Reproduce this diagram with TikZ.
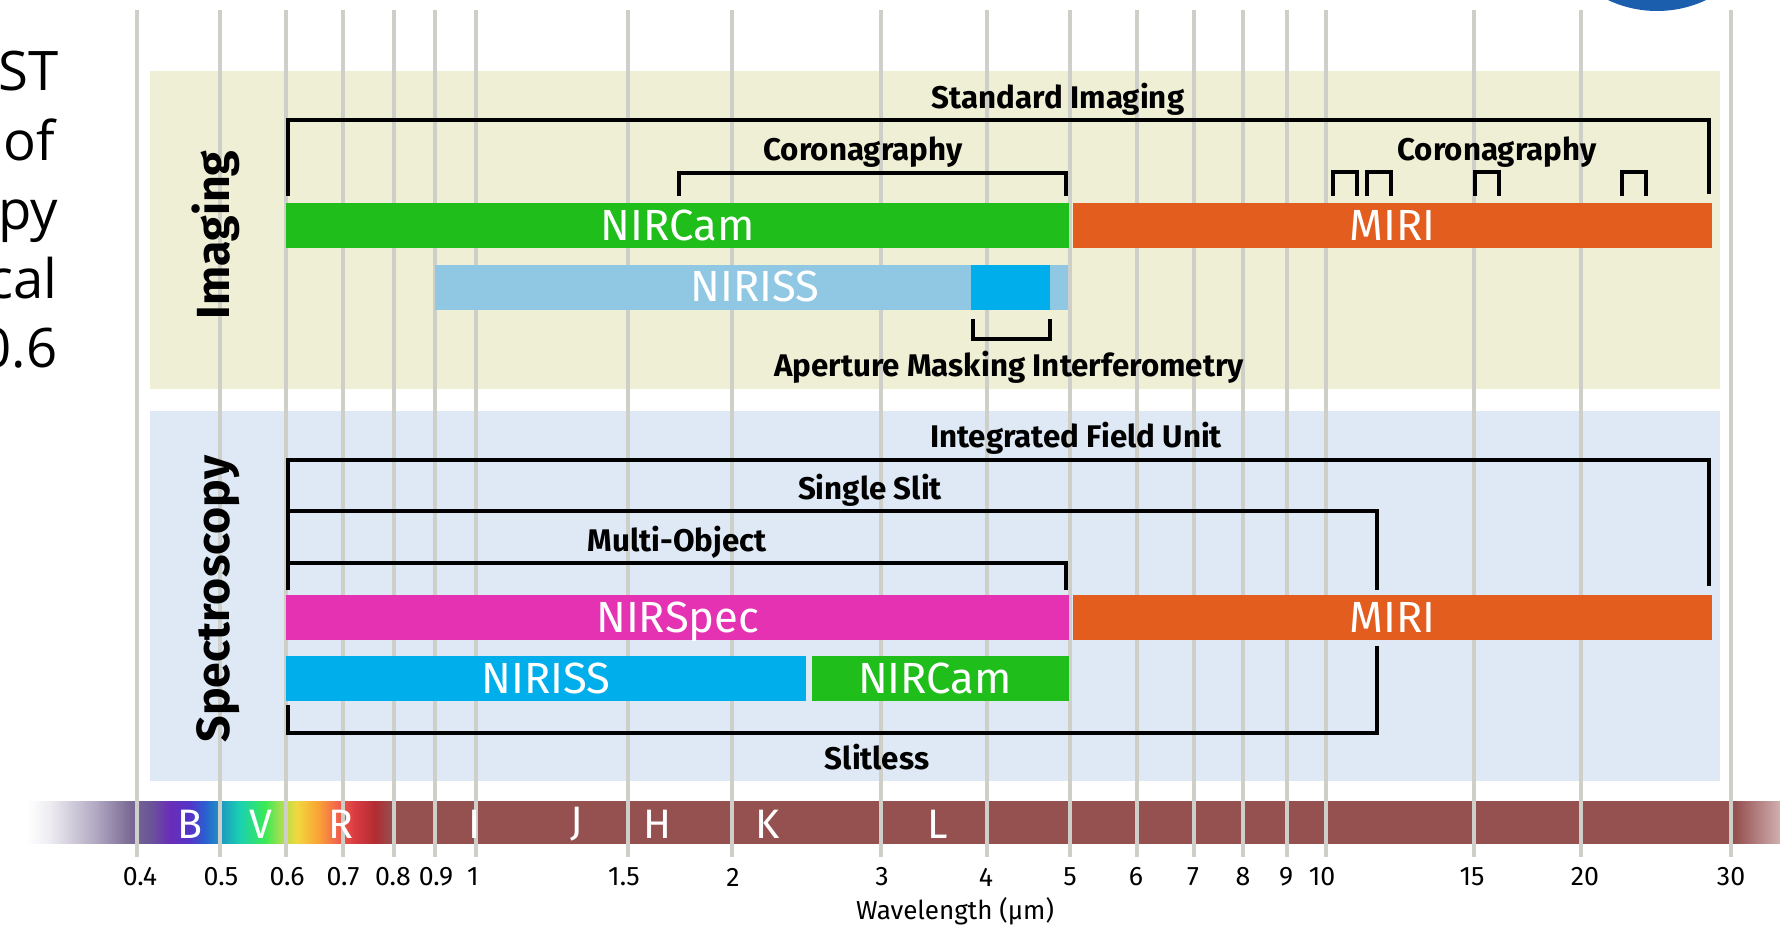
\documentclass[tikz,border=0pt]{standalone}
\usepackage{fontspec}
\setmainfont{Fira Sans}
\newfontfamily\sidefont{Open Sans}
\usepackage{xcolor}
\usetikzlibrary{positioning}

\definecolor{gridgrey}{HTML}{CFCFC9}
\definecolor{imgpanel}{HTML}{EFEFD6}
\definecolor{specpanel}{HTML}{DEE9F5}
\definecolor{nircamgreen}{HTML}{1FBE1B}
\definecolor{miriorange}{HTML}{E25D1E}
\definecolor{nirisslight}{HTML}{90C8E4}
\definecolor{nirissblue}{HTML}{00AEEC}
\definecolor{nirspecpink}{HTML}{E532B2}
\definecolor{logoblue}{HTML}{1B5EAE}

\pgfdeclarehorizontalshading{spectrum}{100bp}{
  color(0bp)=(white); color(25bp)=(white);
  rgb(25.66bp)=(.93,.925,.945); rgb(26.94bp)=(.70,.665,.765);
  rgb(27.94bp)=(.482,.416,.584); rgb(28.51bp)=(.42,.333,.592);
  rgb(29.08bp)=(.416,.176,.722); rgb(29.65bp)=(.325,.208,.784);
  rgb(30.08bp)=(.165,.373,.816); rgb(30.56bp)=(.11,.612,.753);
  rgb(31.08bp)=(.106,.82,.69); rgb(31.79bp)=(.231,.918,.333);
  rgb(32.22bp)=(.627,.878,.314); rgb(32.7bp)=(.949,.847,.243);
  rgb(33.3bp)=(.976,.643,.208); rgb(33.79bp)=(.957,.416,.298);
  rgb(34.36bp)=(.851,.227,.259); rgb(34.93bp)=(.698,.173,.196);
  rgb(35.42bp)=(.584,.314,.314); rgb(73.72bp)=(.584,.314,.314);
  rgb(75bp)=(.82,.69,.69); rgb(100bp)=(.82,.69,.69)}

\tikzset{
  gridline/.style={draw=gridgrey, line width=0.38mm},
  panel/.style={anchor=north west, inner sep=0pt, outer sep=0pt},
  bar/.style={anchor=north west, inner sep=0pt, outer sep=0pt, minimum height=0.45cm,
    text height=8.5pt, text depth=0pt, text=white, font=\fontsize{12.4}{14}\selectfont},
  bracket/.style={draw=black, line width=0.33mm},
  modelabel/.style={inner sep=0pt, font=\fontsize{8.9}{10}\selectfont\bfseries},
  sidelabel/.style={inner sep=0pt, rotate=90, anchor=base, font=\fontsize{13.2}{15}\selectfont\bfseries},
  ticklabel/.style={inner sep=0pt, font=\fontsize{7.6}{9}\selectfont},
  bandlabel/.style={inner sep=0pt, text=white, font=\fontsize{11.7}{13}\selectfont},
  sideline/.style={anchor=base east, inner sep=0pt, font=\sidefont\fontsize{15.5}{18}\selectfont},
}

\begin{document}
\begin{tikzpicture}[x=0.01cm, y=-0.01cm]
    \useasboundingbox (0,0) rectangle (1780,930);
    \fill[logoblue] (1657,-104) circle (115);

    \node[sideline] (line1) at (59,90) {ST};
    \node[sideline] (line2) at (56,160) {of};
    \node[sideline] (line3) at (59,229) {py};
    \node[sideline] (line4) at (58,298) {cal};
    \node[sideline] (line5) at (58,367) {0.6};

    % panels
    \node[panel, fill=imgpanel, minimum width=15.69cm, minimum height=3.18cm] (imgpanel) at (150,71) {};
    \node[panel, fill=specpanel, minimum width=15.69cm, minimum height=3.70cm] (specpanel) at (150,411) {};

    % wavelength band
    \shade[shading=spectrum] (27,801) rectangle (1780,843);

    % wavelength grid
    \foreach \gx/\lx/\lab in {137/140/0.4, 220/221/0.5, 286/287/0.6, 343/343/0.7, 394/393/0.8,
        435/436/0.9, 476/473/1, 628/624/1.5, 732/733/2, 881/882/3, 987/986/4, 1070/1070/5,
        1137/1136/6, 1194/1193/7, 1243/1243/8, 1287/1286/9, 1326/1322/10, 1474/1472/15,
        1581/1585/20, 1731/1731/30} {
        \coordinate (gtop\gx) at (\gx,10);
        \coordinate (gbot\gx) at (\gx,857);
        \draw[gridline] (gtop\gx) -- (gbot\gx);
        \node[ticklabel] (tick\gx) at (\lx,877) {\lab};
    }
    \node[ticklabel, font=\fontsize{7.4}{9}\selectfont] (wavelength) at (955,911) {Wavelength (µm)};

    \foreach \bx/\bname in {190/B, 261/V, 341/R, 475/I, 577/J, 657/H, 768/K, 938/L}
        \node[bandlabel] (band\bname) at (\bx,824) {\bname};

    % imaging
    \node[bar, fill=nircamgreen, minimum width=7.83cm] (nircam1) at (286,203) {NIRCam};
    \node[bar, fill=miriorange, minimum width=6.39cm] (miri1) at (1073,203) {MIRI};
    \node[bar, fill=nirisslight, minimum width=6.33cm] (niriss1) at (435,264.5) {};
    \node[bar, fill=nirissblue, minimum width=0.79cm] (ami) at (971,264.5) {};
    \node[bar, anchor=center] (nirisslabel) at (755,287) {NIRISS};

    \coordinate (si1) at (288,196);
    \coordinate (si2) at (1709,120);
    \coordinate (si3) at (1709,194);
    \draw[bracket] (si1) |- (si2) -- (si3);
    \coordinate (cl1) at (679,196);
    \coordinate (cl2) at (1066,173);
    \coordinate (cl3) at (1066,196);
    \draw[bracket] (cl1) |- (cl2) -- (cl3);
    \foreach \cx/\cy in {1333/1357, 1367/1391, 1475/1499, 1622/1646} {
        \coordinate (cr\cx a) at (\cx,196);
        \coordinate (cr\cx b) at (\cy,172);
        \coordinate (cr\cx c) at (\cy,196);
        \draw[bracket] (cr\cx a) |- (cr\cx b) -- (cr\cx c);
    }
    \coordinate (am1) at (973,319);
    \coordinate (am2) at (1050,339);
    \coordinate (am3) at (1050,319);
    \draw[bracket] (am1) |- (am2) -- (am3);

    \node[modelabel] (stdimg) at (1058,99) {Standard Imaging};
    \node[modelabel] (corleft) at (863,152) {Coronagraphy};
    \node[modelabel] (corright) at (1497,152) {Coronagraphy};
    \node[modelabel] (amilabel) at (1009,367) {Aperture Masking Interferometry};
    \node[sidelabel] (imaging) at (229,235) {Imaging};

    % spectroscopy
    \node[bar, fill=nirspecpink, minimum width=7.83cm] (nirspec) at (286,595) {NIRSpec};
    \node[bar, fill=miriorange, minimum width=6.39cm] (miri2) at (1073,595) {MIRI};
    \node[bar, fill=nirissblue, minimum width=5.20cm] (niriss2) at (286,656) {NIRISS};
    \node[bar, fill=nircamgreen, minimum width=2.57cm] (nircam2) at (812,656) {};
    \node[bar, anchor=center] (nircam2label) at (935,679) {NIRCam};

    \coordinate (ifu1) at (288,590);
    \coordinate (ifu2) at (1709,460);
    \coordinate (ifu3) at (1709,586);
    \draw[bracket] (ifu1) |- (ifu2) -- (ifu3);
    \coordinate (ss1) at (288,590);
    \coordinate (ss2) at (1377,511);
    \coordinate (ss3) at (1377,590);
    \draw[bracket] (ss1) |- (ss2) -- (ss3);
    \coordinate (mo1) at (288,590);
    \coordinate (mo2) at (1066,563);
    \coordinate (mo3) at (1066,590);
    \draw[bracket] (mo1) |- (mo2) -- (mo3);
    \coordinate (sl1) at (288,705);
    \coordinate (sl2) at (1377,733);
    \coordinate (sl3) at (1377,646);
    \draw[bracket] (sl1) |- (sl2) -- (sl3);

    \node[modelabel] (ifulabel) at (1076,438) {Integrated Field Unit};
    \node[modelabel] (sslabel) at (870,490) {Single Slit};
    \node[modelabel] (molabel) at (677,542) {Multi-Object};
    \node[modelabel] (sllabel) at (877,757) {Slitless};
    \node[sidelabel] (spectro) at (229,599) {Spectroscopy};
\end{tikzpicture}
\end{document}
